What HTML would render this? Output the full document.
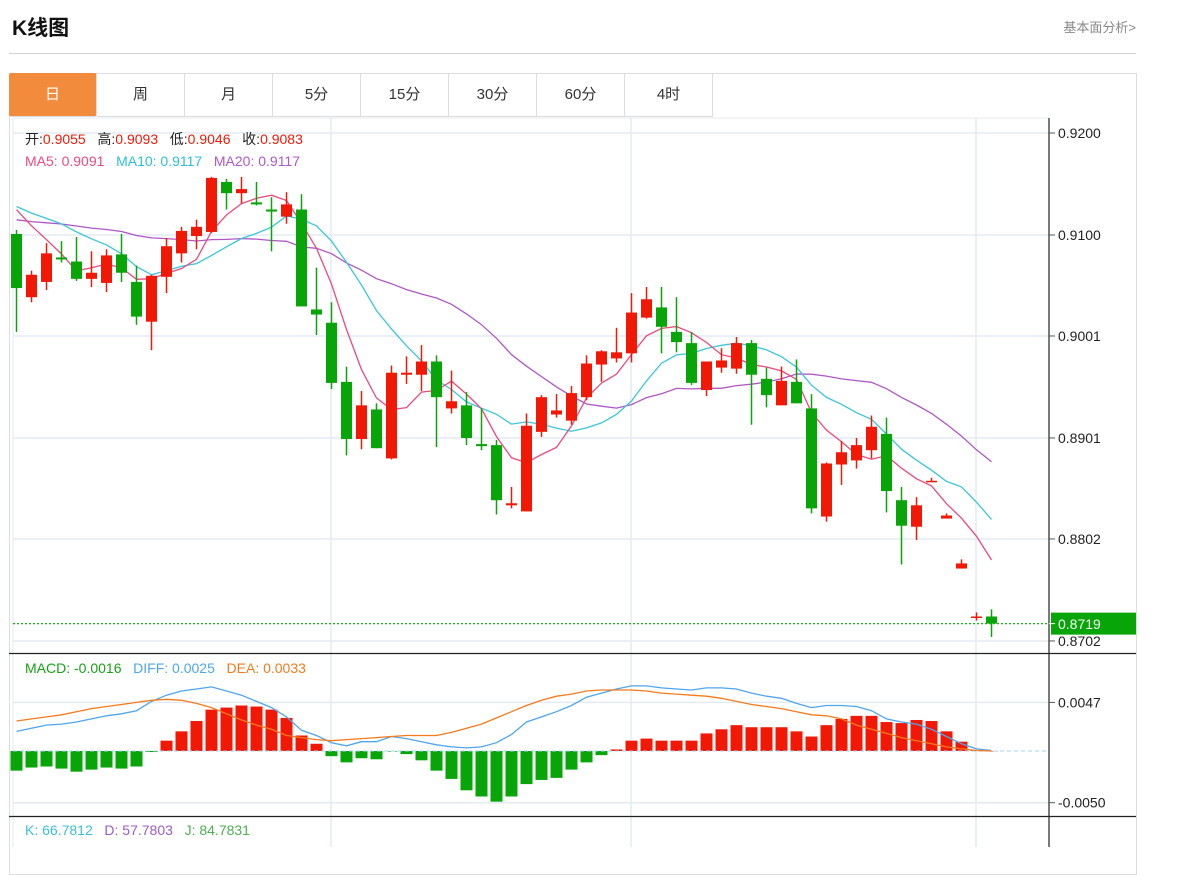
<!DOCTYPE html>
<html><head><meta charset="utf-8">
<style>
body{margin:0;width:1188px;height:847px;background:#fff;overflow:hidden;font-family:"Liberation Sans","Noto Sans CJK SC",sans-serif;}
.title{position:absolute;left:12px;top:12px;font-size:21px;font-weight:bold;color:#111;}
.more{position:absolute;right:52px;top:17px;font-size:13px;color:#888;}
.hr{position:absolute;left:9px;top:53px;width:1127px;height:1px;background:#d4d4d4;}
.box{position:absolute;left:9px;top:73px;width:1126px;height:800px;border:1px solid #ddd;}
.tabs{position:absolute;left:9px;top:73px;height:44px;display:flex;}
.tab{width:87px;height:43px;line-height:43px;text-align:center;font-size:15px;color:#333;border-right:1px solid #ddd;border-bottom:1px solid #ddd;}
.tab.on{background:#f28c3c;color:#fff;border-radius:2px;}
svg{position:absolute;left:0;top:0;}
</style></head><body>
<div class="title">K线图</div>
<div class="more">基本面分析&gt;</div>
<div class="hr"></div>
<div class="box"></div>
<div class="tabs">
<div class="tab on">日</div>
<div class="tab">周</div>
<div class="tab">月</div>
<div class="tab">5分</div>
<div class="tab">15分</div>
<div class="tab">30分</div>
<div class="tab">60分</div>
<div class="tab">4时</div>
</div>
<svg id="chart" width="1188" height="847"></svg>
<script>
const opens=[0.9101,0.9039,0.9054,0.9078,0.9074,0.9057,0.9053,0.9081,0.9054,0.9015,0.9059,0.9082,0.9099,0.9103,0.9152,0.9141,0.9132,0.9125,0.9118,0.9125,0.9027,0.9014,0.8956,0.8900,0.8929,0.8881,0.8963,0.8963,0.8976,0.8930,0.8933,0.8895,0.8894,0.8835,0.8829,0.8907,0.8924,0.8918,0.8941,0.8973,0.8979,0.8984,0.9019,0.9029,0.9005,0.8994,0.8948,0.8970,0.8969,0.8994,0.8959,0.8933,0.8956,0.8930,0.8824,0.8875,0.8879,0.8889,0.8905,0.8840,0.8814,0.8858,0.8822,0.8773,0.8725,0.8726];
const closes=[0.9048,0.9061,0.9082,0.9076,0.9057,0.9063,0.9080,0.9063,0.9020,0.9060,0.9089,0.9104,0.9108,0.9156,0.9141,0.9145,0.9130,0.9123,0.9130,0.9030,0.9022,0.8955,0.8900,0.8933,0.8891,0.8965,0.8965,0.8976,0.8941,0.8937,0.8901,0.8893,0.8840,0.8837,0.8913,0.8941,0.8928,0.8945,0.8974,0.8986,0.8985,0.9024,0.9037,0.9010,0.8995,0.8955,0.8976,0.8977,0.8994,0.8963,0.8943,0.8957,0.8935,0.8832,0.8876,0.8887,0.8894,0.8912,0.8849,0.8815,0.8835,0.8859,0.8825,0.8778,0.8726,0.8719];
const highs=[0.9105,0.9065,0.9092,0.9094,0.9098,0.9084,0.9086,0.9101,0.9070,0.9061,0.9097,0.9108,0.9115,0.9157,0.9155,0.9157,0.9152,0.9137,0.9142,0.9140,0.9068,0.9034,0.8971,0.8947,0.8935,0.8972,0.8981,0.8992,0.8982,0.8967,0.8946,0.8930,0.8899,0.8853,0.8925,0.8943,0.8944,0.8952,0.8982,0.8987,0.9009,0.9043,0.9049,0.9049,0.9039,0.9005,0.8976,0.8989,0.9000,0.8997,0.8970,0.8971,0.8978,0.8944,0.8877,0.8898,0.8901,0.8923,0.8921,0.8853,0.8843,0.8862,0.8827,0.8782,0.8730,0.8733];
const lows=[0.9005,0.9034,0.9046,0.9073,0.9055,0.9049,0.9044,0.9054,0.9012,0.8987,0.9043,0.9073,0.9086,0.9102,0.9125,0.9131,0.9129,0.9084,0.9111,0.9030,0.9002,0.8949,0.8884,0.8890,0.8891,0.8880,0.8954,0.8947,0.8892,0.8925,0.8894,0.8889,0.8826,0.8832,0.8829,0.8902,0.8921,0.8914,0.8938,0.8956,0.8975,0.8975,0.9018,0.8984,0.8985,0.8953,0.8942,0.8965,0.8964,0.8914,0.8931,0.8933,0.8935,0.8827,0.8819,0.8855,0.8871,0.8881,0.8828,0.8777,0.8801,0.8858,0.8822,0.8773,0.8722,0.8706];
const priorCloses=[0.9098,0.9105,0.9100,0.9096,0.9104,0.9108,0.9101,0.9099,0.9106,0.9103,0.9125,0.9134,0.9130,0.9136,0.9130,0.9140,0.9150,0.9146,0.9140];
const priceTicks=[0.9200,0.9100,0.9001,0.8901,0.8802,0.8702];
// MACD values in units of 0.001
const macdHist=[-1.9,-1.6,-1.5,-1.7,-2.0,-1.8,-1.6,-1.7,-1.5,-0.1,1.0,1.9,2.9,4.0,4.2,4.4,4.3,4.0,3.2,1.5,0.7,-0.5,-1.1,-0.7,-0.8,-0.05,-0.3,-0.9,-1.9,-2.7,-3.8,-4.4,-4.9,-4.4,-3.2,-2.8,-2.6,-1.8,-1.1,-0.4,0.15,1.0,1.2,1.0,1.0,1.0,1.7,2.1,2.5,2.3,2.3,2.3,1.9,1.4,2.5,3.1,3.4,3.4,2.8,2.7,3.0,2.9,1.9,0.9,0.1,0];
const diffLine=[1.9,2.2,2.5,2.6,2.8,3.1,3.4,3.6,3.9,4.8,5.4,5.8,6.0,6.2,5.8,5.4,4.8,4.2,3.3,2.0,1.5,0.8,0.5,0.9,0.9,1.4,1.2,0.9,0.6,0.4,0.3,0.4,0.8,1.6,2.8,3.3,3.8,4.4,5.2,5.6,6.0,6.3,6.3,6.1,6.0,5.9,6.1,6.1,6.0,5.6,5.3,5.1,4.6,4.2,4.4,4.4,4.3,3.9,3.1,2.8,2.6,2.1,1.4,0.7,0.2,0.05];
const deaLine=[2.9,3.1,3.3,3.5,3.8,4.1,4.3,4.5,4.7,4.9,5.0,4.9,4.6,4.2,3.6,3.0,2.5,2.1,1.5,1.3,1.1,1.0,1.1,1.2,1.3,1.4,1.5,1.5,1.5,1.8,2.2,2.6,3.2,3.8,4.4,4.9,5.3,5.5,5.8,5.9,5.9,5.9,5.8,5.6,5.5,5.4,5.3,5.1,4.8,4.5,4.3,4.1,3.8,3.5,3.4,3.1,2.5,2.1,1.7,1.3,1.0,0.7,0.4,0.2,0.05,0];
const macdTicks=[4.7,-5.0];

const NS='http://www.w3.org/2000/svg';
const svg=document.getElementById('chart');
const RED='#f21806',GREEN='#07a507';
const xOf=i=>16.5+i*15;
const yP=p=>133+(0.92-p)*10200;
const yM=v=>751-v*10.34;
function el(tag,attrs,parent){const e=document.createElementNS(NS,tag);for(const k in attrs)e.setAttribute(k,attrs[k]);(parent||svg).appendChild(e);return e;}
function txt(x,y,s,fill,size,anchor){const t=el('text',{x:x,y:y,fill:fill,'font-size':size||14,'text-anchor':anchor||'start','font-family':'"Liberation Sans","Noto Sans CJK SC",sans-serif'});t.textContent=s;return t;}

const grid=el('g',{});


[331,631,976].forEach(x=>el('line',{x1:x,y1:118,x2:x,y2:847,stroke:'#e3ebf2','stroke-width':1.5},grid));
priceTicks.forEach(p=>el('line',{x1:13,y1:yP(p),x2:1049,y2:yP(p),stroke:'#e3ebf2','stroke-width':1.5},grid));
macdTicks.forEach(v=>el('line',{x1:13,y1:yM(v),x2:1049,y2:yM(v),stroke:'#e3ebf2','stroke-width':1.5},grid));
el('line',{x1:13,y1:118,x2:1049,y2:118,stroke:'#e3ebf2','stroke-width':1},grid);
el('line',{x1:13,y1:118,x2:13,y2:847,stroke:'#e3ebf2','stroke-width':1},grid);

const all=priorCloses.concat(closes);
function ma(n){return closes.map((c,i)=>{const j=i+priorCloses.length;let s=0;for(let k=j-n+1;k<=j;k++)s+=all[k];return s/n;});}
[[20,'#b057c6','ma20-line'],[10,'#3ac6dc','ma10-line'],[5,'#ec4a7e','ma5-line']].forEach(([n,c,name])=>{
  const pts=ma(n).map((v,i)=>xOf(i)+','+yP(v).toFixed(1)).join(' ');
  const l=el('polyline',{points:pts,fill:'none',stroke:c,'stroke-width':1.3});
  
  
});

const cg=el('g',{});


closes.forEach((c,i)=>{
  const o=opens[i],up=c>=o,col=up?RED:GREEN,x=xOf(i);
  el('line',{x1:x,y1:yP(highs[i]),x2:x,y2:yP(lows[i]),stroke:col,'stroke-width':1.5},cg);
  const top=yP(Math.max(o,c)),bot=yP(Math.min(o,c));
  const r=el('rect',{x:x-5.5,y:top,width:11,height:Math.max(1.5,bot-top),fill:col},cg);
  
  
});

const lastY=yP(closes[closes.length-1]);
el('line',{x1:13,y1:lastY,x2:1049,y2:lastY,stroke:'#1ab01a','stroke-width':1.2,'stroke-dasharray':'2,2'});

const mg=el('g',{});


el('line',{x1:13,y1:yM(0),x2:1049,y2:yM(0),stroke:'#9fd4f0','stroke-width':1,'stroke-dasharray':'4,3'});
macdHist.forEach((v,i)=>{
  const y0=yM(0),y1=yM(v);
  const b=el('rect',{x:xOf(i)-6,y:Math.min(y0,y1),width:12,height:Math.max(0.5,Math.abs(y1-y0)),fill:v>=0?RED:GREEN},mg);
  
  
});
[[diffLine,'#4ea6ee','diff-line'],[deaLine,'#f57a1c','dea-line']].forEach(([arr,c,name])=>{
  const l=el('polyline',{points:arr.map((v,i)=>xOf(i)+','+yM(v).toFixed(1)).join(' '),fill:'none',stroke:c,'stroke-width':1.3});
  
  
});

el('line',{x1:1049,y1:118,x2:1049,y2:847,stroke:'#222','stroke-width':1.2});
el('line',{x1:9,y1:653.5,x2:1136,y2:653.5,stroke:'#222','stroke-width':1.2});
el('line',{x1:9,y1:816.5,x2:1136,y2:816.5,stroke:'#222','stroke-width':1.2});
priceTicks.forEach(p=>{
  el('line',{x1:1049,y1:yP(p),x2:1055,y2:yP(p),stroke:'#555'});
  const t=txt(1058,yP(p)+5,p.toFixed(4),'#222',14);
  
  
});
macdTicks.forEach(v=>{
  el('line',{x1:1049,y1:yM(v),x2:1055,y2:yM(v),stroke:'#555'});
  const t=txt(1058,yM(v)+5,(v/1000).toFixed(4),'#222',14);
  
  
});
const tag=el('rect',{x:1051,y:lastY-11,width:85,height:22,fill:'#07a507'});


el('line',{x1:1049,y1:lastY,x2:1055,y2:lastY,stroke:'#fff'});
txt(1058,lastY+5.5,closes[closes.length-1].toFixed(4),'#fff',14);

function legend(x,y,parts,name){const t=el('text',{x:x,y:y,'font-size':14,'font-family':'"Liberation Sans","Noto Sans CJK SC",sans-serif'});
  
  
  t.style.whiteSpace='pre';
  parts.forEach(([s,c])=>{const sp=el('tspan',{fill:c},t);sp.textContent=s;});}
legend(25,144,[['开:','#222'],['0.9055   ','#f21806'],['高:','#222'],['0.9093   ','#f21806'],['低:','#222'],['0.9046   ','#f21806'],['收:','#222'],['0.9083','#f21806']],'ohlc-legend');
legend(25,166,[['MA5: 0.9091   ','#ec4a7e'],['MA10: 0.9117   ','#2cc0d6'],['MA20: 0.9117','#b057c6']],'ma-legend');
legend(25,673,[['MACD: -0.0016   ','#16a316'],['DIFF: 0.0025   ','#4ea6ee'],['DEA: 0.0033','#f57a1c']],'macd-legend');
legend(25,835,[['K: 66.7812   ','#3cc0d6'],['D: 57.7803   ','#9b5cc8'],['J: 84.7831','#4cb050']],'kdj-legend');
</script>
</body></html>
